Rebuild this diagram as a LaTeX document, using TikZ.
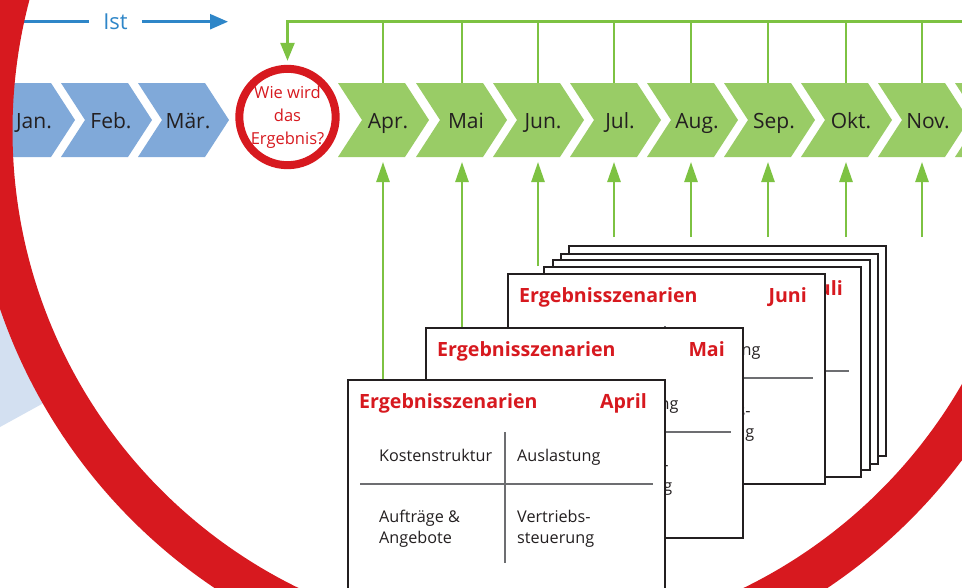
\documentclass[tikz,border=0pt]{standalone}
\usepackage{fontspec}
\setmainfont{Open Sans}
\usetikzlibrary{arrows.meta}
\definecolor{chevB}{HTML}{80A9D9}
\definecolor{chevG}{HTML}{99CC66}
\definecolor{lineG}{HTML}{7DC242}
\definecolor{lineB}{HTML}{2E86C8}
\definecolor{ringR}{HTML}{D7191F}
\definecolor{lightB}{HTML}{D3E0F1}
\definecolor{txt}{HTML}{231F20}
\definecolor{gridC}{HTML}{6D6E71}
\definecolor{cardB}{HTML}{231F20}
\newcommand{\chevshape}[2]{%
  \fill[#2] (#1,83) -- ++(67,0) -- ++(24,37) -- ++(-24,37) -- ++(-67,0) -- ++(24,-37) -- cycle;}
\newcommand{\cardfull}[4]{%
  \node[card] (#3) at (#1,#2) {};
  \node[ctitle, anchor=base west] (#3-t) at ({#1+12},{#2+29}) {Ergebnisszenarien};
  \node[ctitle, anchor=base east] (#3-m) at ({#1+300},{#2+29}) {#4};
  \coordinate (#3-v1) at ({#1+158},{#2+53});
  \coordinate (#3-v2) at ({#1+158},{#2+184});
  \coordinate (#3-h1) at ({#1+13},{#2+105});
  \coordinate (#3-h2) at ({#1+306},{#2+105});
  \draw[gridl] (#3-v1) -- (#3-v2);
  \draw[gridl] (#3-h1) -- (#3-h2);
  \node[ctext] (#3-k) at ({#1+32},{#2+82}) {Kostenstruktur};
  \node[ctext] (#3-a) at ({#1+170},{#2+82}) {Auslastung};
  \node[ctext] (#3-o1) at ({#1+32},{#2+143}) {Aufträge \&};
  \node[ctext] (#3-o2) at ({#1+32},{#2+164}) {Angebote};
  \node[ctext] (#3-s1) at ({#1+170},{#2+143}) {Vertriebs-};
  \node[ctext] (#3-s2) at ({#1+170},{#2+164}) {steuerung};
}
\begin{document}
\begin{tikzpicture}[x=1pt,y=-1pt,
  mon/.style={font=\fontsize{21}{21}\selectfont, text=txt, anchor=base, inner sep=0pt},
  gline/.style={draw=lineG, line width=2.5pt},
  garrow/.style={gline, -{Triangle[width=13pt,length=20pt]}},
  bline/.style={draw=lineB, line width=2.5pt},
  card/.style={draw=cardB, line width=1.8pt, fill=white, minimum width=317pt, minimum height=210pt, inner sep=0pt, anchor=north west},
  ctitle/.style={font=\fontsize{19.6}{19.6}\selectfont\bfseries, text=ringR, inner sep=0pt},
  ctext/.style={font=\fontsize{16.2}{16.2}\selectfont, text=txt, inner sep=0pt, anchor=base west},
  gridl/.style={draw=gridC, line width=1.3pt}
]
\useasboundingbox (0,0) rectangle (962,587);
\clip (0,0) rectangle (962,587);
\fill[white] (0,0) rectangle (962,587);
% light blue wedge and inner white disc
\fill[lightB] (0,280) -- (80,280) -- (80,383) -- (0,427) -- cycle;
\fill[white] (521,130.6) circle[radius=508.5pt];

% chevrons
\chevshape{-16}{chevB}
\chevshape{61}{chevB}
\chevshape{138}{chevB}
\foreach \L in {338,416,493,570,647,724,801,878,955}{\chevshape{\L}{chevG}}
\node[mon] (jan) at (34,128) {Jan.};
\node[mon] (feb) at (111,128) {Feb.};
\node[mon] (mar) at (188,128) {Mär.};
\node[mon] (apr) at (388,128) {Apr.};
\node[mon] (mai) at (466,128) {Mai};
\node[mon] (jun) at (543,128) {Jun.};
\node[mon] (jul) at (620,128) {Jul.};
\node[mon] (aug) at (697,128) {Aug.};
\node[mon] (sep) at (774,128) {Sep.};
\node[mon] (okt) at (851,128) {Okt.};
\node[mon] (nov) at (928,128) {Nov.};

% question circle
\node[circle, draw=ringR, line width=8pt, minimum size=96pt, inner sep=0pt, fill=white,
      align=center, text=ringR, font=\fontsize{16.5}{23}\selectfont] (q) at (287.5,117)
      {Wie wird\\das\\Ergebnis?};

% Ist line
\node[text=lineB, font=\fontsize{22}{22}\selectfont, inner xsep=14pt, inner ysep=0pt] (ist) at (115.5,21.7) {Ist};
\coordinate (bl) at (0,21.7);
\coordinate (bt) at (228,21.7);
\draw[bline] (bl) -- (ist.west);
\draw[bline, -{Triangle[width=15pt,length=18pt]}] (ist.east) -- (bt);

% green top line with drops
\coordinate (gr) at (962,21.7);
\draw[gline, line join=miter, -{Triangle[width=14pt,length=18pt]}, shorten >=4pt] (gr) -| (q.north);
\foreach \x/\n in {383/apr,462/mai,538/jun,614/jul,691/aug,768/sep,846/okt,922/nov}{
  \coordinate (t-\n) at (\x,21.7);
  \coordinate (c-\n) at (\x,83);
  \coordinate (a-\n) at (\x,162);
  \coordinate (b-\n) at (\x,237);
  \draw[gline] (t-\n) -- (c-\n);
}
\foreach \n in {jul,aug,sep,okt,nov}{\draw[garrow] (b-\n) -- (a-\n);}

% cards, back to front
\node[card] (k5) at (568,245) {};
\node[card] (k4) at (560,253) {};
\node[card] (k3) at (552,259) {};
\cardfull{543}{266}{cjul}{Juli}
\cardfull{507}{273}{cjun}{Juni}
\cardfull{425}{327}{cmai}{Mai}
\cardfull{347}{379}{capr}{April}

\draw[garrow] (a-jun |- cjul.north) -- (a-jun);
\draw[garrow] (a-mai |- cmai.north) -- (a-mai);
\draw[garrow] (a-apr |- capr.north) -- (a-apr);

% big red ring
\draw[ringR, line width=42pt] (521,130.6) circle[radius=529.5pt];
\end{tikzpicture}
\end{document}
